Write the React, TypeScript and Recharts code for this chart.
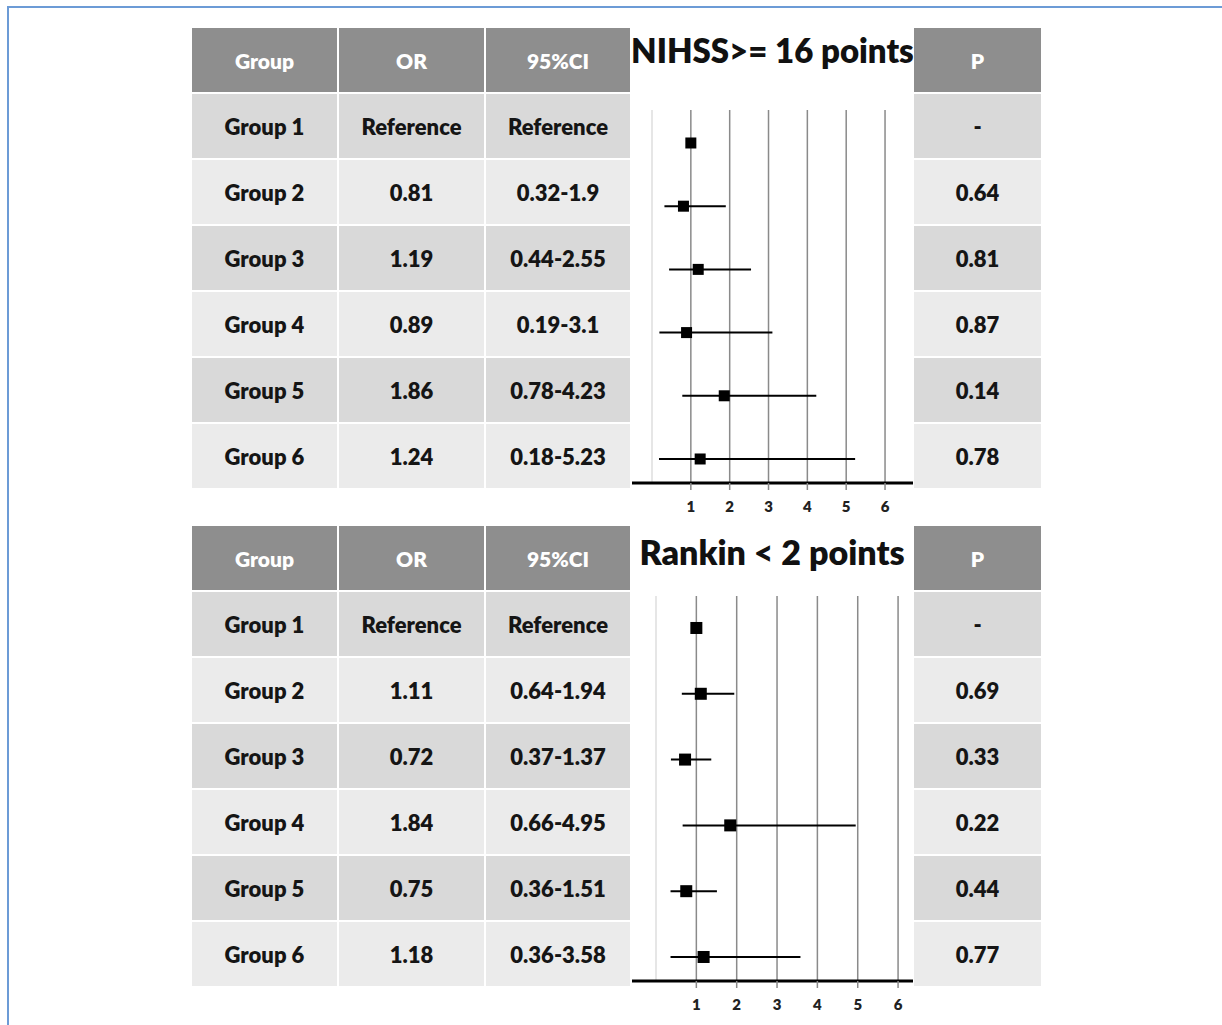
import {
  ScatterChart,
  Scatter,
  XAxis,
  YAxis,
  ErrorBar,
  ReferenceLine
} from 'recharts';

const groups = ['Group 1', 'Group 2', 'Group 3', 'Group 4', 'Group 5', 'Group 6'];
const headers = ['Group', 'OR', '95%CI', 'P'];
const axisTicks = [1, 2, 3, 4, 5, 6];
const gridValues = [0, 1, 2, 3, 4, 5, 6];

// NIHSS >= 16 points
const nihssOr = [1, 0.81, 1.19, 0.89, 1.86, 1.24];
const nihssLow = [null, 0.32, 0.44, 0.19, 0.78, 0.18];
const nihssHigh = [null, 1.9, 2.55, 3.1, 4.23, 5.23];
const nihssP = ['-', '0.64', '0.81', '0.87', '0.14', '0.78'];

// Rankin < 2 points
const rankinOr = [1, 1.11, 0.72, 1.84, 0.75, 1.18];
const rankinLow = [null, 0.64, 0.37, 0.66, 0.36, 0.36];
const rankinHigh = [null, 1.94, 1.37, 4.95, 1.51, 3.58];
const rankinP = ['-', '0.69', '0.33', '0.22', '0.44', '0.77'];

const FONT = 'Lato, "Open Sans", sans-serif';
const HEAD_BG = '#8e8e8e';
const ROW_DARK = '#d9d9d9';
const ROW_LIGHT = '#ebebeb';

type Panel = {
  title: string;
  titleSize: number;
  titleTop: number;
  top: number;
  plotTop: number;
  plotBottom: number;
  or: number[];
  low: (number | null)[];
  high: (number | null)[];
  p: string[];
  xDomain: [number, number];
  yDomain: [number, number];
  marker: number;
};

const panels: Panel[] = [
  {
    title: 'NIHSS>= 16 points',
    titleSize: 33,
    titleTop: 30,
    top: 28,
    plotTop: 110,
    plotBottom: 483,
    or: nihssOr,
    low: nihssLow,
    high: nihssHigh,
    p: nihssP,
    xDomain: [-0.515, 6.72],
    yDomain: [0.478, 6.38],
    marker: 11
  },
  {
    title: 'Rankin < 2 points',
    titleSize: 34,
    titleTop: 532,
    top: 526,
    plotTop: 596,
    plotBottom: 981,
    or: rankinOr,
    low: rankinLow,
    high: rankinHigh,
    p: rankinP,
    xDomain: [-0.595, 6.37],
    yDomain: [0.514, 6.365],
    marker: 12
  }
];

const cols = [
  { left: 192, width: 145 },
  { left: 339, width: 145 },
  { left: 486, width: 144 },
  { left: 914, width: 127 }
];
const CHART_LEFT = 631;
const CHART_WIDTH = 282;
const HEAD_H = 64;
const ROW_PITCH = 66;
const ROW_H = 64;

function Cell({ left, top, width, height, bg, color, size, children }: any) {
  return (
    <div
      style={{
        position: 'absolute',
        left,
        top,
        width,
        height,
        background: bg,
        color,
        fontFamily: FONT,
        fontWeight: 800,
        fontSize: size,
        display: 'flex',
        alignItems: 'center',
        justifyContent: 'center'
      }}
    >
      {children}
    </div>
  );
}

function ForestPlot({ panel }: { panel: Panel }) {
  const data = panel.or.map((v, i) => ({
    name: groups[i],
    or: v,
    row: i + 1,
    err: panel.low[i] == null ? [0, 0] : [v - (panel.low[i] as number), (panel.high[i] as number) - v]
  }));
  const s = panel.marker;

  return (
    <ScatterChart
      width={CHART_WIDTH}
      height={panel.plotBottom - panel.plotTop + 44}
      margin={{ top: 0, right: 0, bottom: 4, left: 1 }}
    >
      <XAxis
        type="number"
        dataKey="or"
        domain={panel.xDomain}
        ticks={axisTicks}
        allowDataOverflow
        axisLine={{ stroke: '#000', strokeWidth: 3 }}
        tickLine={{ stroke: '#8a8a8a', strokeWidth: 1.5 }}
        tickSize={7}
        height={40}
        tick={{ fill: '#222', fontSize: 15, fontWeight: 800, fontFamily: FONT, dy: 9 }}
      />
      <YAxis type="number" dataKey="row" domain={panel.yDomain} reversed hide allowDataOverflow />
      {gridValues.map((g) => (
        <ReferenceLine
          key={g}
          x={g}
          stroke={g === 0 ? '#dedede' : '#8a8a8a'}
          strokeWidth={1.5}
        />
      ))}
      <Scatter
        data={data}
        isAnimationActive={false}
        shape={(props: any) => (
          <rect x={props.cx - s / 2} y={props.cy - s / 2} width={s} height={s} fill="#000" />
        )}
      >
        <ErrorBar dataKey="err" direction="x" width={0} stroke="#000" strokeWidth={2} />
      </Scatter>
    </ScatterChart>
  );
}

function PanelBlock({ panel }: { panel: Panel }) {
  const rowTop = (i: number) => panel.top + HEAD_H + 2 + i * ROW_PITCH;
  return (
    <>
      {cols.map((c, j) => (
        <Cell key={'h' + j} left={c.left} top={panel.top} width={c.width} height={HEAD_H} bg={HEAD_BG} color="#fff" size={21}>
          {headers[j]}
        </Cell>
      ))}
      <div
        style={{
          position: 'absolute',
          left: CHART_LEFT,
          top: panel.titleTop,
          width: CHART_WIDTH,
          textAlign: 'center',
          lineHeight: '40px',
          fontFamily: FONT,
          fontWeight: 800,
          fontSize: panel.titleSize,
          color: '#111',
          whiteSpace: 'nowrap'
        }}
      >
        {panel.title}
      </div>
      {groups.map((g, i) => {
        const bg = i % 2 === 0 ? ROW_DARK : ROW_LIGHT;
        const texts = [
          g,
          i === 0 ? 'Reference' : String(panel.or[i]),
          i === 0 ? 'Reference' : `${panel.low[i]}-${panel.high[i]}`,
          panel.p[i]
        ];
        return cols.map((c, j) => (
          <Cell key={g + j} left={c.left} top={rowTop(i)} width={c.width} height={ROW_H} bg={bg} color="#151515" size={22}>
            {texts[j]}
          </Cell>
        ));
      })}
      <div style={{ position: 'absolute', left: CHART_LEFT, top: panel.plotTop }}>
        <ForestPlot panel={panel} />
      </div>
    </>
  );
}

export default function App() {
  return (
    <div
      style={{
        position: 'absolute',
        left: 0,
        top: 0,
        width: 1222,
        height: 1025,
        background: '#fff',
        overflow: 'hidden'
      }}
    >
      <div
        style={{
          position: 'absolute',
          left: 7,
          top: 6,
          width: 1230,
          height: 1040,
          borderTop: '2px solid #6c9bd6',
          borderLeft: '2px solid #6c9bd6'
        }}
      />
      {panels.map((p) => (
        <PanelBlock key={p.title} panel={p} />
      ))}
    </div>
  );
}
